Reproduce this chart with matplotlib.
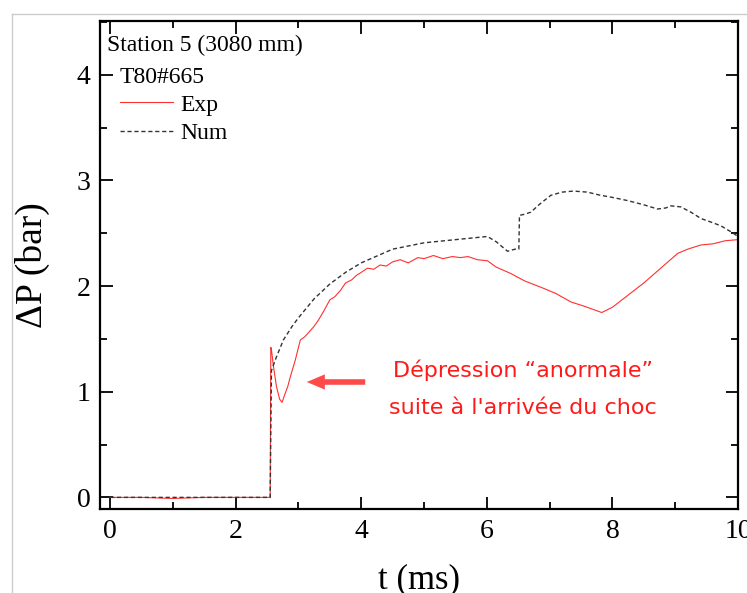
import matplotlib
matplotlib.use('Agg')
import matplotlib.pyplot as plt
from matplotlib.lines import Line2D

# Experimental trace (t in ms, dP in bar)
exp_t = [0.0, 0.5, 1.0, 1.5, 2.0, 2.55, 2.56, 2.57, 2.60, 2.65, 2.70, 2.74,
         2.78, 2.83, 2.87, 2.95, 3.03, 3.10, 3.19, 3.25, 3.32, 3.40, 3.50,
         3.58, 3.67, 3.75, 3.85, 3.92, 4.00, 4.10, 4.20, 4.30, 4.40, 4.50,
         4.62, 4.75, 4.90, 5.00, 5.15, 5.30, 5.45, 5.58, 5.70, 5.85, 6.01,
         6.15, 6.38, 6.60, 6.90, 7.10, 7.34, 7.55, 7.83, 8.00, 8.24, 8.50,
         8.77, 9.04, 9.20, 9.41, 9.60, 9.80, 10.0]
exp_dp = [0.0, 0.0, -0.01, 0.0, 0.0, 0.0, 1.42, 1.40, 1.25, 1.05, 0.93, 0.90,
          0.97, 1.05, 1.14, 1.30, 1.49, 1.52, 1.58, 1.62, 1.68, 1.76, 1.87,
          1.90, 1.96, 2.03, 2.06, 2.10, 2.13, 2.17, 2.16, 2.20, 2.19, 2.23,
          2.25, 2.22, 2.27, 2.26, 2.29, 2.26, 2.28, 2.27, 2.28, 2.25, 2.24,
          2.18, 2.12, 2.05, 1.98, 1.93, 1.85, 1.81, 1.75, 1.80, 1.91, 2.03,
          2.17, 2.31, 2.35, 2.39, 2.40, 2.43, 2.44]

# Numerical trace
num_t = [0.0, 2.55, 2.57, 2.65, 2.76, 2.90, 3.00, 3.25, 3.50, 3.75, 4.00,
         4.50, 5.00, 5.50, 6.01, 6.15, 6.33, 6.45, 6.51, 6.52, 6.60, 6.70,
         6.85, 7.02, 7.20, 7.38, 7.60, 7.81, 8.00, 8.24, 8.50, 8.72, 8.85,
         8.93, 9.09, 9.25, 9.41, 9.60, 9.73, 9.90, 10.0]
num_dp = [0.0, 0.0, 1.20, 1.33, 1.49, 1.62, 1.70, 1.88, 2.02, 2.13, 2.22,
          2.35, 2.41, 2.44, 2.47, 2.42, 2.33, 2.35, 2.35, 2.67, 2.68, 2.70,
          2.78, 2.86, 2.89, 2.90, 2.89, 2.86, 2.84, 2.81, 2.77, 2.73, 2.74,
          2.76, 2.75, 2.70, 2.64, 2.60, 2.57, 2.51, 2.47]

serif = ['Liberation Serif', 'DejaVu Serif']
plt.rcParams['font.family'] = serif

fig = plt.figure(figsize=(7.47, 5.93), dpi=100)
ax = fig.add_axes([100 / 747, 1 - 509 / 593, 638 / 747, 488 / 593])

ax.plot(exp_t, exp_dp, color='#ff3030', lw=0.8, label='Exp')
ax.plot(num_t, num_dp, color='#333333', lw=1.0, ls=(0, (3, 2)), label='Num')

ax.set_xlim(-0.16, 10)
ax.set_ylim(-0.11, 4.51)
ax.set_xticks([0, 2, 4, 6, 8, 10])
ax.set_xticks([1, 3, 5, 7, 9], minor=True)
ax.set_yticks([0, 1, 2, 3, 4])
ax.set_yticks([0.5, 1.5, 2.5, 3.5, 4.5], minor=True)
ax.tick_params(which='both', direction='in', top=True, right=True,
               labelsize=20, width=1.3, pad=7)
ax.tick_params(which='major', length=9)
ax.tick_params(which='minor', length=5)
for s in ax.spines.values():
    s.set_linewidth(1.6)

ax.set_xlabel('t (ms)', fontsize=25, labelpad=14)
ax.set_ylabel('ΔP (bar)', fontsize=27, labelpad=19)

ax.text(0.011, 0.949, 'Station 5 (3080 mm)', transform=ax.transAxes,
        fontsize=17, va='center', ha='left')
ax.text(0.031, 0.885, 'T80#665', transform=ax.transAxes,
        fontsize=17, va='center', ha='left')
leg = ax.legend(loc='upper left', bbox_to_anchor=(0.031, 0.85), frameon=False,
                fontsize=17, handlelength=2.25, handletextpad=0.3,
                labelspacing=0.3, borderaxespad=0, borderpad=0)

ax.annotate('', xy=(304, 593 - 382), xycoords='figure pixels',
            xytext=(368, 593 - 382), textcoords='figure pixels',
            arrowprops=dict(arrowstyle='simple,head_length=1.3,head_width=1.1,tail_width=0.4',
                            color='#ff4a4a', lw=0))
fig.text(523 / 747, 1 - 370 / 593, 'Dépression “anormale”', color='#ff1a1a',
         fontsize=16, ha='center', va='center', family='DejaVu Sans')
fig.text(523 / 747, 1 - 408 / 593, "suite à l'arrivée du choc", color='#ff1a1a',
         fontsize=16, ha='center', va='center', family='DejaVu Sans')

# light outer frame of the screenshot
fig.add_artist(Line2D([12 / 747, 12 / 747], [0, 1 - 14 / 593],
                      transform=fig.transFigure, color='#cccccc', lw=1))
fig.add_artist(Line2D([12 / 747, 1], [1 - 14 / 593, 1 - 14 / 593],
                      transform=fig.transFigure, color='#cccccc', lw=1))

fig.savefig('out.png', dpi=100)
